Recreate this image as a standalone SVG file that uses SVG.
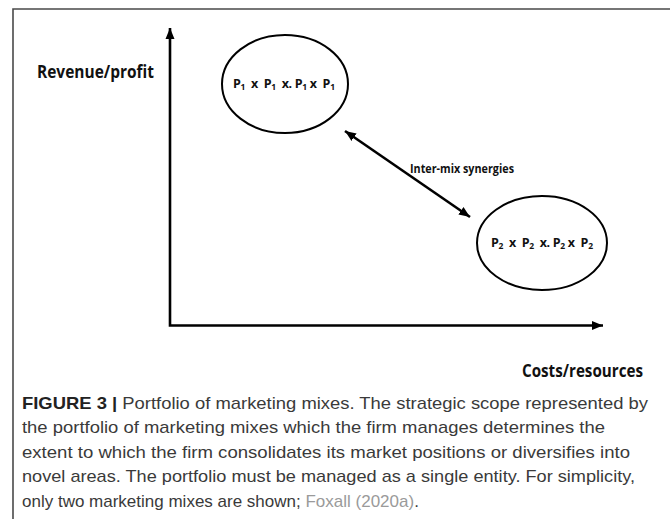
<svg xmlns="http://www.w3.org/2000/svg" width="670" height="519" viewBox="0 0 670 519">
  <defs>
    <marker id="ah" markerUnits="userSpaceOnUse" markerWidth="12" markerHeight="10" refX="11" refY="5" orient="auto-start-reverse">
      <path d="M0,0.5 L11,5 L0,9.5 z" fill="#000"/>
    </marker>
    <style>
      .frame { stroke: #4a4a4a; stroke-width: 1.6; fill: none; }
      .axis { stroke: #000; stroke-width: 2.6; fill: none; }
      .node ellipse { stroke: #000; stroke-width: 2; fill: #fff; }
      .lbl { font-family: "Open Sans", "Liberation Sans", sans-serif; font-weight: bold; fill: #111; }
      .cap { font-family: "Liberation Sans", Arial, sans-serif; font-size: 17px; fill: #3a3a3a; }
      .sub { font-size: 8.5px; }
    </style>
  </defs>
  <rect width="670" height="519" fill="#fff"/>
  <path class="frame" d="M13,519 L13,9 L670,9"/>

  <g id="axes">
    <path class="axis" d="M170,28 L170,325.5 L603,325.5" marker-start="url(#ah)" marker-end="url(#ah)"/>
    <text class="lbl" x="37" y="78" font-size="17" textLength="117" lengthAdjust="spacingAndGlyphs">Revenue/profit</text>
    <text class="lbl" x="643" y="377" font-size="17" text-anchor="end" textLength="121" lengthAdjust="spacingAndGlyphs">Costs/resources</text>
  </g>

  <g id="mix1" class="node">
    <ellipse cx="285" cy="84" rx="63" ry="49"/>
    <text class="lbl" x="233" y="88" font-size="12.5" xml:space="preserve" textLength="102" lengthAdjust="spacing">P<tspan class="sub" dy="2">1</tspan><tspan dy="-2">  x  P</tspan><tspan class="sub" dy="2">1</tspan><tspan dy="-2">  x. P</tspan><tspan class="sub" dy="2">1</tspan><tspan dy="-2"> x  P</tspan><tspan class="sub" dy="2">1</tspan></text>
  </g>

  <g id="mix2" class="node">
    <ellipse cx="542" cy="243" rx="65" ry="47"/>
    <text class="lbl" x="491" y="247" font-size="12.5" xml:space="preserve" textLength="102" lengthAdjust="spacing">P<tspan class="sub" dy="2">2</tspan><tspan dy="-2">  x  P</tspan><tspan class="sub" dy="2">2</tspan><tspan dy="-2">  x. P</tspan><tspan class="sub" dy="2">2</tspan><tspan dy="-2"> x  P</tspan><tspan class="sub" dy="2">2</tspan></text>
  </g>

  <g id="connectors">
    <line x1="345" y1="131" x2="470" y2="217" class="axis" marker-start="url(#ah)" marker-end="url(#ah)"/>
    <text class="lbl" x="410" y="173" font-size="11.5" textLength="104" lengthAdjust="spacingAndGlyphs">Inter-mix synergies</text>
  </g>

  <g id="caption">
    <text class="cap" x="22" y="409" textLength="626" lengthAdjust="spacingAndGlyphs"><tspan font-weight="bold" fill="#222">FIGURE 3 |</tspan> Portfolio of marketing mixes. The strategic scope represented by</text>
    <text class="cap" x="22" y="433" textLength="583" lengthAdjust="spacingAndGlyphs">the portfolio of marketing mixes which the firm manages determines the</text>
    <text class="cap" x="22" y="458" textLength="608" lengthAdjust="spacingAndGlyphs">extent to which the firm consolidates its market positions or diversifies into</text>
    <text class="cap" x="22" y="482" textLength="613" lengthAdjust="spacingAndGlyphs">novel areas. The portfolio must be managed as a single entity. For simplicity,</text>
    <text class="cap" x="22" y="507" font-size="16.5">only two marketing mixes are shown; <tspan fill="#9a9a9a">Foxall (2020a)</tspan>.</text>
  </g>
</svg>
